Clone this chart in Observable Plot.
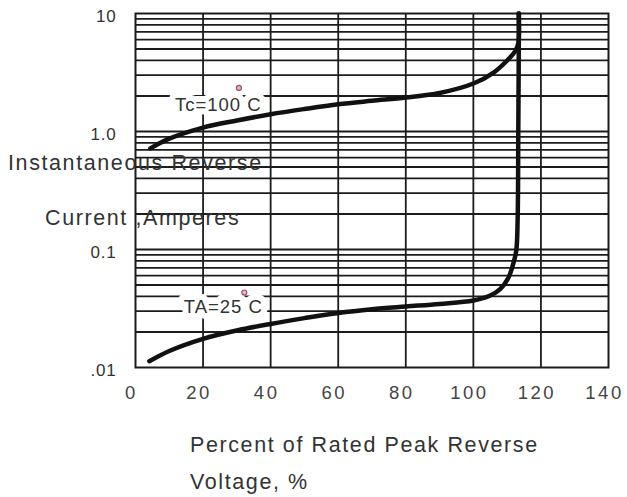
<!DOCTYPE html>
<html>
<head>
<meta charset="utf-8">
<script src="https://cdn.jsdelivr.net/npm/d3@7"></script>
<script src="https://cdn.jsdelivr.net/npm/@observablehq/plot@0.6"></script>
<style>
  body { margin: 0; background: #fff; }
  #wrap { position: relative; width: 627px; height: 497px; overflow: hidden; font-family: "Liberation Sans", Arial, sans-serif; }
  .ttl { position: absolute; font-size: 21.5px; line-height: 24px; letter-spacing: 1.6px; color: #333; white-space: nowrap; }
  g[aria-label="x-axis tick label"] text { letter-spacing: 2.5px; }
  g[aria-label="y-axis tick label"] text { letter-spacing: 0.8px; }
  g[aria-label="text"] text { letter-spacing: 1px; }
</style>
</head>
<body>
<div id="wrap"></div>
<script>
// Tick positions and labels
const xTicks = [0, 20, 40, 60, 80, 100, 120, 140];
const yTicks = [0.01, 0.1, 1, 10];
const yTickLabels = [".01", "0.1", "1.0", "10"];
const xGrid = [20, 40, 60, 80, 100, 120];
const decades = [0.01, 0.1, 1];
const mult = [2, 3, 4, 5, 6, 7, 8, 9];
const yGrid = decades.flatMap(d => mult.map(m => +(m * d).toPrecision(3))).concat([0.1, 1]);

// Tc = 100 °C curve
const hotX = [4.4, 10, 20, 30, 40, 50, 60, 70, 80, 90, 100, 106, 110, 112.5, 113.3, 113.4];
const hotY = [0.72, 0.87, 1.08, 1.24, 1.40, 1.55, 1.70, 1.82, 1.94, 2.12, 2.55, 3.16, 4.0, 4.85, 5.6, 10];

// TA = 25 °C curve
const coldX = [4.1, 10, 20, 30, 40, 50, 60, 70, 80, 90, 100, 105, 108, 110.4, 111.8, 112.7, 113.1, 113.3, 113.5];
const coldY = [0.0113, 0.0138, 0.0175, 0.0206, 0.0234, 0.0262, 0.0290, 0.0312, 0.0329, 0.0346, 0.037, 0.0407, 0.0464, 0.058, 0.0755, 0.098, 0.176, 1.0, 10];

// Annotations
const labelText = ["Tc=100 C", "TA=25 C"];
const labelX = [24.5, 26];
const labelY = [1.66, 0.0322];
const degX = [30.6, 32.2];
const degY = [2.34, 0.0432];

const hot = hotX.map((x, i) => ({x, y: hotY[i]}));
const cold = coldX.map((x, i) => ({x, y: coldY[i]}));
const labels = labelText.map((t, i) => ({t, x: labelX[i], y: labelY[i]}));
const degs = degX.map((x, i) => ({x, y: degY[i]}));

const ink = "#1c1c1c";

const chart = Plot.plot({
  width: 627,
  height: 410,
  marginLeft: 135,
  marginRight: 19,
  marginTop: 13,
  marginBottom: 43,
  style: { fontFamily: "'Liberation Sans', Arial, sans-serif", background: "#fff", overflow: "visible" },
  x: { domain: [0, 140] },
  y: { type: "log", domain: [0.01, 10] },
  marks: [
    Plot.ruleY(yGrid, { stroke: ink, strokeWidth: 1.8 }),
    Plot.ruleX(xGrid, { stroke: ink, strokeWidth: 1.8 }),
    Plot.frame({ stroke: ink, strokeWidth: 2 }),
    Plot.axisX({ ticks: xTicks, tickSize: 0, tickPadding: 18, fontSize: 18.5, label: null, color: "#444", dx: -4, tickFormat: d => String(d) }),
    Plot.axisY({ ticks: yTicks, tickSize: 0, tickPadding: 19, fontSize: 17, label: null, color: "#333", dy: 3,
      tickFormat: d => yTickLabels[yTicks.findIndex(t => Math.abs(t - d) < 1e-9)] }),
    Plot.text(labels, { x: "x", y: "y", text: "t", fontSize: 18.5, fill: "#333", stroke: "#fff", strokeWidth: 12, paintOrder: "stroke" }),
    Plot.line(hot, { x: "x", y: "y", curve: "catmull-rom", stroke: "#111", strokeWidth: 4.5 }),
    Plot.line(cold, { x: "x", y: "y", curve: "catmull-rom", stroke: "#111", strokeWidth: 4.5 }),
    Plot.dot(degs, { x: "x", y: "y", r: 2.5, stroke: "#9a5070", fill: "#e0b4c6", strokeWidth: 1.2 })
  ]
});

const wrap = document.getElementById("wrap");
wrap.appendChild(chart);

function title(text, left, top) {
  const d = document.createElement("div");
  d.className = "ttl";
  d.textContent = text;
  d.style.left = left + "px";
  d.style.top = top + "px";
  wrap.appendChild(d);
}
title("Instantaneous Reverse", 8, 151);
title("Current ,Amperes", 45, 206);
title("Percent of Rated Peak Reverse", 190, 433);
title("Voltage, %", 190, 470);
</script>
</body>
</html>
